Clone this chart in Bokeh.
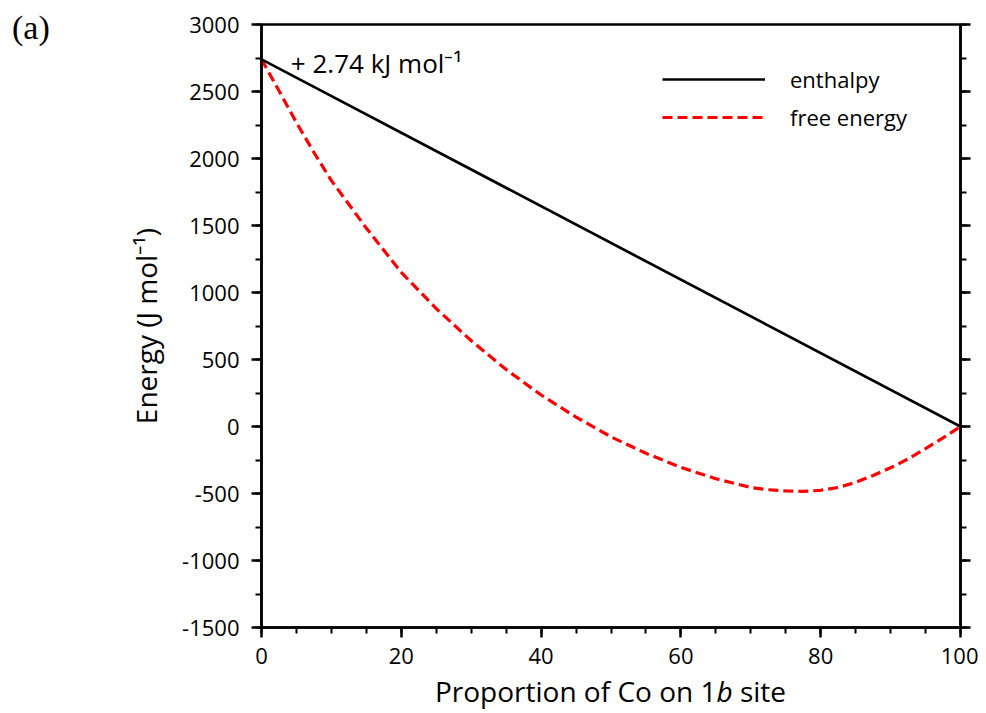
from bokeh.plotting import figure
from bokeh.layouts import row, column
from bokeh.models import (LinearAxis, SingleIntervalTicker, Legend, LegendItem,
                          Label, ColumnDataSource, PrintfTickFormatter,
                          CustomJSTickFormatter, Div)
from bokeh.embed import file_html
from bokeh.resources import INLINE

# ---- data ----
x_enthalpy = [0, 100]
enthalpy = [2740, 0]

x_free = [0, 2.5, 5, 7.5, 10, 15, 20, 25, 30, 35, 40, 45, 50, 55, 60, 65,
          70, 72.5, 75, 77.5, 80, 82.5, 85, 87.5, 90, 92.5, 95, 97.5, 100]
free_energy = [2740, 2505, 2268, 2045, 1835, 1480, 1150, 880, 640, 425, 235, 70,
               -77, -200, -305, -390, -455, -472, -481, -484, -476, -455, -417,
               -365, -308, -242, -165, -85, 0]

x_ticks_interval = 20
y_ticks_interval = 500
annotation_text = "+ 2.74 kJ mol\u207b\u00b9"
panel_label = "(a)"
x_label_html = "Proportion of Co on 1<i>b</i> site"
y_label = "Energy (J mol\u207b\u00b9)"

FONT = "Open Sans"
DIV_W = 60

p = figure(frame_width=699, frame_height=603,
           x_range=(0, 100), y_range=(-1500, 3000),
           output_backend="svg", toolbar_location=None,
           min_border_left=261 - DIV_W, min_border_top=24,
           min_border_right=18, min_border_bottom=48)
p.grid.visible = False
p.outline_line_color = "black"
p.outline_line_width = 2.5
p.background_fill_color = "white"
p.border_fill_color = "white"

p.xaxis.ticker = SingleIntervalTicker(interval=x_ticks_interval, num_minor_ticks=4)
p.yaxis.ticker = SingleIntervalTicker(interval=y_ticks_interval, num_minor_ticks=2)
p.xaxis.formatter = PrintfTickFormatter(format="%d")
p.yaxis.formatter = PrintfTickFormatter(format="%d")

right = LinearAxis(ticker=SingleIntervalTicker(interval=y_ticks_interval, num_minor_ticks=2),
                   formatter=CustomJSTickFormatter(code="return ''"))
right.major_label_standoff = 0
p.add_layout(right, "right")

for ax in [p.xaxis[0], p.yaxis[0], right]:
    ax.axis_line_width = 2.5
    ax.axis_line_color = "black"
    ax.major_tick_line_width = 2.5
    ax.minor_tick_line_width = 2
    ax.major_tick_out = 10
    ax.major_tick_in = 0
    ax.minor_tick_out = 6
    ax.minor_tick_in = 0
    ax.major_label_text_font = FONT
    ax.major_label_text_color = "black"
    ax.axis_label_text_font = FONT
    ax.axis_label_text_font_style = "normal"
    ax.axis_label_text_color = "black"

p.xaxis[0].major_label_text_font_size = "22px"
p.yaxis[0].major_label_text_font_size = "22px"
p.xaxis[0].major_label_standoff = 10
p.yaxis[0].major_label_standoff = 12
p.yaxis[0].axis_label = y_label
p.yaxis[0].axis_label_text_font_size = "28px"
p.yaxis[0].axis_label_standoff = 14

src_h = ColumnDataSource(dict(x=x_enthalpy, y=enthalpy))
src_g = ColumnDataSource(dict(x=x_free, y=free_energy))

r_g = p.line("x", "y", source=src_g, line_color="#ff0000", line_width=3.2,
             line_dash="10 5")
r_h = p.line("x", "y", source=src_h, line_color="black", line_width=2.7)

legend = Legend(items=[LegendItem(label="enthalpy", renderers=[r_h]),
                       LegendItem(label="free energy", renderers=[r_g])],
                location=(401, 495))
legend.border_line_color = None
legend.background_fill_alpha = 0
legend.padding = 0
legend.margin = 0
legend.glyph_width = 103
legend.glyph_height = 26
legend.label_height = 26
legend.spacing = 8
legend.label_standoff = 25
legend.label_text_font = FONT
legend.label_text_font_size = "22px"
legend.label_text_color = "black"
p.add_layout(legend)

p.add_layout(Label(x=4.2, y=2716, text=annotation_text, text_font=FONT,
                   text_font_size="26px", text_color="black",
                   text_baseline="alphabetic", text_align="left"))

div_a = Div(text=('<div style="font-family: \'Liberation Serif\'; font-size: 34px; '
                  'line-height: 34px; color: black; padding-left: 12px; '
                  'padding-top: 11px;">' + panel_label + '</div>'),
            width=DIV_W, height=60, margin=0)

div_x = Div(text=('<div style="font-family: \'Open Sans\'; font-size: 28px; '
                  'line-height: 32px; color: black; text-align: center; '
                  'width: 699px;">' + x_label_html + '</div>'),
            width=699, height=34, margin=(0, 0, 0, 261))

layout = column(row(div_a, p, spacing=0), div_x, spacing=0)

open("out.html", "w").write(file_html(layout, INLINE))
